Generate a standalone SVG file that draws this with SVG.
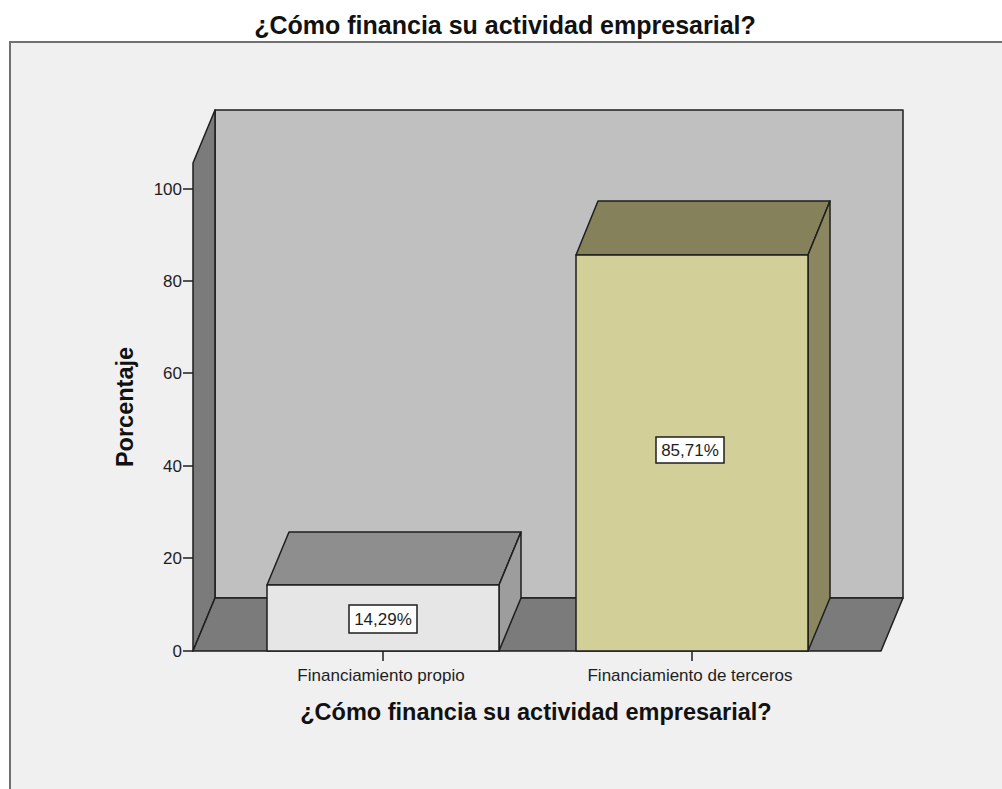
<svg xmlns="http://www.w3.org/2000/svg" width="1002" height="789" viewBox="0 0 1002 789">
  <style>
    .edge { stroke: #1e1e1e; stroke-width: 1.5; stroke-linejoin: round; }
    .tick { stroke: #1e1e1e; stroke-width: 1.5; }
    .tl { font-family: "Liberation Sans", Arial, sans-serif; font-size: 17px; fill: #1e1e1e; }
    .ttl { font-family: "Liberation Sans", Arial, sans-serif; font-weight: bold; fill: #111111; }
    .lbl { font-family: "Liberation Sans", Arial, sans-serif; font-size: 17px; fill: #1e1e1e; text-anchor: middle; }
    .box { fill: #ffffff; stroke: #1e1e1e; stroke-width: 1.5; }
  </style>
  <rect x="0" y="0" width="1002" height="789" fill="#ffffff"/>
  <g id="title">
    <text class="ttl" x="505" y="34" font-size="25" text-anchor="middle">¿Cómo financia su actividad empresarial?</text>
  </g>
  <g id="frame">
    <rect x="10" y="42" width="1100" height="800" fill="#f0f0f0" stroke="#707070" stroke-width="2"/>
  </g>
  <g id="walls">
    <rect class="edge" x="215" y="110" width="688" height="488" fill="#c0c0c0"/>
    <polygon class="edge" points="193,163 215,110 215,598 193,651" fill="#7b7b7b"/>
    <polygon class="edge" points="193,651 881,651 903,598 215,598" fill="#7b7b7b"/>
  </g>
  <g id="y-axis">
    <line class="tick" x1="183" y1="189" x2="193" y2="189"/>
    <line class="tick" x1="183" y1="281" x2="193" y2="281"/>
    <line class="tick" x1="183" y1="373" x2="193" y2="373"/>
    <line class="tick" x1="183" y1="466" x2="193" y2="466"/>
    <line class="tick" x1="183" y1="558" x2="193" y2="558"/>
    <line class="tick" x1="183" y1="651" x2="193" y2="651"/>
    <text class="tl" x="182" y="195" text-anchor="end">100</text>
    <text class="tl" x="182" y="287" text-anchor="end">80</text>
    <text class="tl" x="182" y="379" text-anchor="end">60</text>
    <text class="tl" x="182" y="472" text-anchor="end">40</text>
    <text class="tl" x="182" y="564" text-anchor="end">20</text>
    <text class="tl" x="182" y="657" text-anchor="end">0</text>
    <text class="ttl" font-size="23.5" text-anchor="middle" transform="translate(133,407) rotate(-90)">Porcentaje</text>
  </g>
  <g id="bar-propio">
    <polygon class="edge" points="267,585 289,532 521,532 499,585" fill="#8e8e8e"/>
    <polygon class="edge" points="499,585 521,532 521,598 499,651" fill="#9d9d9d"/>
    <rect class="edge" x="267" y="585" width="232" height="66" fill="#e6e6e6"/>
    <rect class="box" x="349" y="605" width="68" height="28"/>
    <text class="lbl" x="383" y="625">14,29%</text>
  </g>
  <g id="bar-terceros">
    <polygon class="edge" points="576,255 598,201 830,201 808,255" fill="#85825b"/>
    <polygon class="edge" points="808,255 830,201 830,598 808,651" fill="#8a8760"/>
    <rect class="edge" x="576" y="255" width="232" height="396" fill="#d3cf98"/>
    <rect class="box" x="656" y="437" width="68" height="26"/>
    <text class="lbl" x="690" y="456">85,71%</text>
  </g>
  <g id="x-axis">
    <line class="tick" x1="383" y1="651" x2="383" y2="661"/>
    <line class="tick" x1="692" y1="651" x2="692" y2="661"/>
    <text class="lbl" x="381" y="681">Financiamiento propio</text>
    <text class="lbl" x="690" y="681">Financiamiento de terceros</text>
    <text class="ttl" x="536" y="720" font-size="23.5" text-anchor="middle">¿Cómo financia su actividad empresarial?</text>
  </g>
</svg>
